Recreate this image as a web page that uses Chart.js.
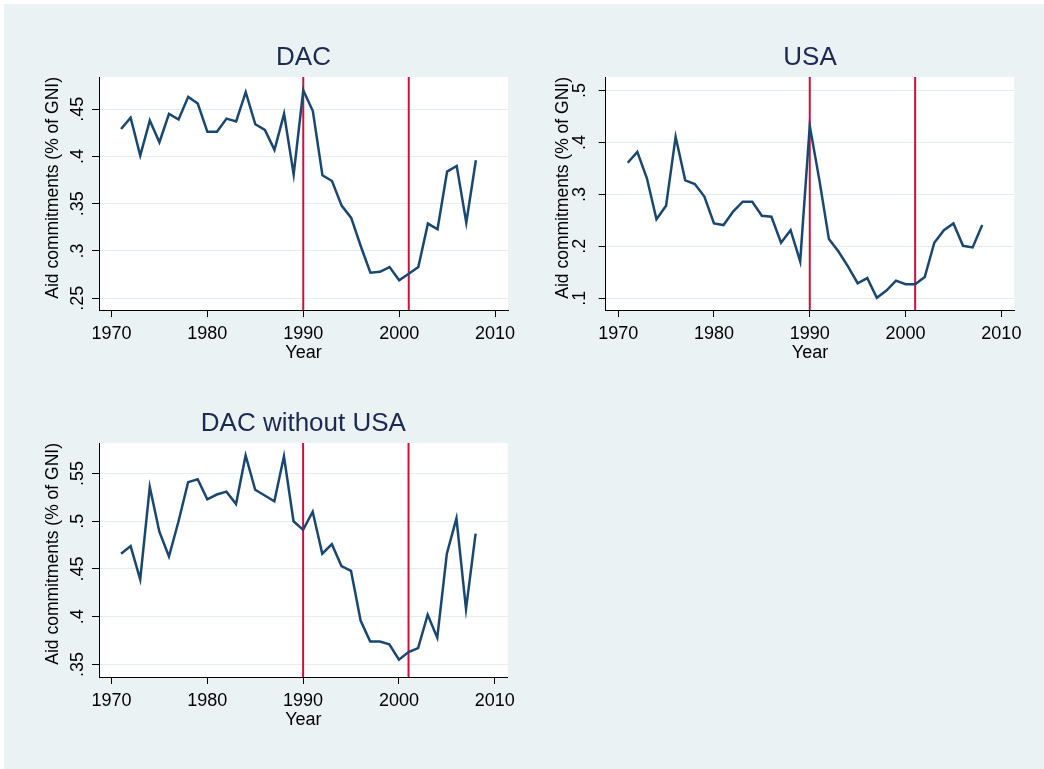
<!DOCTYPE html>
<html>
<head>
<meta charset="utf-8">
<script src="https://cdn.jsdelivr.net/npm/chart.js@4.4.0/dist/chart.umd.min.js"></script>
<style>
  body { margin: 0; background: #fff; }
  #bg { position: absolute; left: 4px; top: 4px; width: 1040px; height: 765px; background: #eaf2f3; }
  canvas { position: absolute; }
</style>
</head>
<body>
<div id="bg"></div>
<canvas id="c1" width="510" height="340" style="left:30px;top:36px"></canvas>
<canvas id="c2" width="504" height="340" style="left:540px;top:36px"></canvas>
<canvas id="c3" width="510" height="341" style="left:30px;top:402px"></canvas>
<script>
// data
var years = [1971, 1972, 1973, 1974, 1975, 1976, 1977, 1978, 1979, 1980,
             1981, 1982, 1983, 1984, 1985, 1986, 1987, 1988, 1989, 1990,
             1991, 1992, 1993, 1994, 1995, 1996, 1997, 1998, 1999, 2000,
             2001, 2002, 2003, 2004, 2005, 2006, 2007, 2008];

var dac = [0.429, 0.441, 0.401, 0.438, 0.415, 0.445, 0.439, 0.463, 0.456, 0.426,
           0.426, 0.440, 0.437, 0.468, 0.434, 0.428, 0.407, 0.445, 0.381, 0.470,
           0.448, 0.380, 0.374, 0.348, 0.335, 0.305, 0.277, 0.278, 0.283, 0.269,
           0.276, 0.283, 0.329, 0.323, 0.384, 0.390, 0.330, 0.396];

var usa = [0.361, 0.382, 0.331, 0.252, 0.278, 0.411, 0.327, 0.320, 0.296, 0.244,
           0.241, 0.267, 0.286, 0.286, 0.259, 0.257, 0.207, 0.231, 0.171, 0.432,
           0.328, 0.214, 0.190, 0.161, 0.129, 0.139, 0.101, 0.115, 0.134, 0.127,
           0.127, 0.141, 0.207, 0.231, 0.244, 0.201, 0.198, 0.241];

var dacNoUsa = [0.466, 0.474, 0.439, 0.536, 0.489, 0.463, 0.500, 0.541, 0.544, 0.523,
                0.528, 0.531, 0.518, 0.569, 0.533, 0.527, 0.521, 0.568, 0.500, 0.491,
                0.510, 0.466, 0.476, 0.453, 0.448, 0.396, 0.374, 0.374, 0.371, 0.355,
                0.363, 0.367, 0.402, 0.378, 0.466, 0.503, 0.408, 0.487];

var breakYears = [1990, 2001];
var yearTicks = [1970, 1980, 1990, 2000, 2010];

var dacTicks = [0.25, 0.3, 0.35, 0.4, 0.45];
var dacTickLabels = ['.25', '.3', '.35', '.4', '.45'];
var usaTicks = [0.1, 0.2, 0.3, 0.4, 0.5];
var usaTickLabels = ['.1', '.2', '.3', '.4', '.5'];
var noUsaTicks = [0.35, 0.4, 0.45, 0.5, 0.55];
var noUsaTickLabels = ['.35', '.4', '.45', '.5', '.55'];

Chart.defaults.font.family = "'Liberation Sans', Arial, sans-serif";
Chart.defaults.color = '#000';

// white plot region
var plotBg = {
  id: 'plotBg',
  beforeDraw: function(chart) {
    var a = chart.chartArea, ctx = chart.ctx;
    ctx.save();
    ctx.fillStyle = '#fff';
    ctx.fillRect(a.left, a.top, a.right - a.left, a.bottom - a.top);
    ctx.restore();
  }
};

function makePanel(id, title, values, yMin, yMax, ticks, tickLabels, axisW, padRight, tickPad, titlePad) {
  var datasets = [{
    data: years.map(function(yr, i) { return {x: yr, y: values[i]}; }),
    borderColor: '#1a476f',
    borderWidth: 2.5,
    pointRadius: 0,
    tension: 0
  }];
  breakYears.forEach(function(yr) {
    datasets.push({
      data: [{x: yr, y: yMin}, {x: yr, y: yMax}],
      borderColor: '#c8143c',
      borderWidth: 2,
      pointRadius: 0
    });
  });

  new Chart(document.getElementById(id), {
    type: 'line',
    data: {datasets: datasets},
    plugins: [plotBg],
    options: {
      responsive: false,
      animation: false,
      layout: {padding: {left: 0, top: 0, right: padRight, bottom: 0}},
      plugins: {
        legend: {display: false},
        tooltip: {enabled: false},
        title: {
          display: true,
          text: title,
          fullSize: false,
          color: '#1c2951',
          font: {size: 26, weight: 'normal'},
          padding: {top: titlePad, bottom: 41 - 31.2 - titlePad}
        }
      },
      scales: {
        x: {
          type: 'linear',
          min: 1968.7,
          max: 2011.35,
          afterBuildTicks: function(s) { s.ticks = yearTicks.map(function(v) { return {value: v}; }); },
          afterFit: function(s) { s.height = 66; },
          ticks: {
            autoSkip: false,
            maxRotation: 0,
            padding: 6.7,
            font: {size: 18},
            color: '#000',
            callback: function(v) { return String(v); }
          },
          grid: {drawOnChartArea: false, drawTicks: true, tickLength: 7, tickColor: '#000', tickWidth: 1},
          border: {color: '#000', width: 1},
          title: {display: true, text: 'Year', color: '#000', font: {size: 18}, padding: {top: 0, bottom: 12.2}}
        },
        y: {
          type: 'linear',
          min: yMin,
          max: yMax,
          afterBuildTicks: function(s) { s.ticks = ticks.map(function(v) { return {value: v}; }); },
          afterFit: function(s) { s.width = axisW; },
          ticks: {
            autoSkip: false,
            minRotation: 90,
            maxRotation: 90,
            crossAlign: 'center',
            padding: tickPad,
            font: {size: 18},
            color: '#000',
            callback: function(v) { return tickLabels[ticks.indexOf(v)]; }
          },
          grid: {color: '#e4edf0', lineWidth: 1, drawTicks: true, tickLength: 7, tickColor: '#000', tickWidth: 1},
          border: {color: '#000', width: 1},
          title: {
            display: true,
            text: 'Aid commitments (% of GNI)',
            align: 'end',
            color: '#000',
            font: {size: 17.5},
            padding: {top: 12.5, bottom: 0}
          }
        }
      }
    }
  });
}

makePanel('c1', 'DAC', dac, 0.2376, 0.484, dacTicks, dacTickLabels, 69, 32, 1.2, 5.9);
makePanel('c2', 'USA', usa, 0.0775, 0.526, usaTicks, usaTickLabels, 65.7, 29.7, 10.7, 5.9);
makePanel('c3', 'DAC without USA', dacNoUsa, 0.3368, 0.582, noUsaTicks, noUsaTickLabels, 69, 32.3, 1.2, 6.4);
</script>
</body>
</html>
